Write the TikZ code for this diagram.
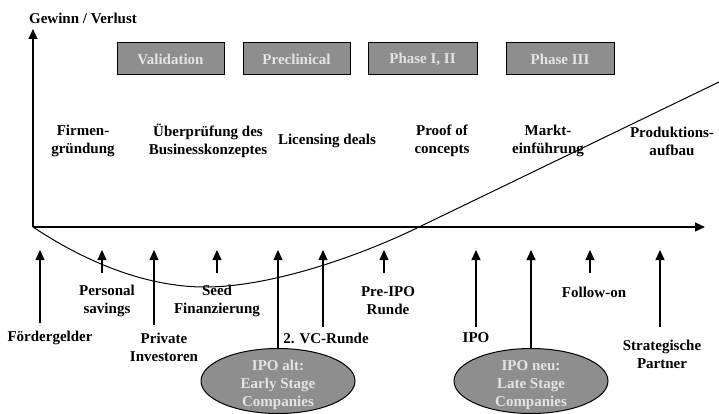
\documentclass[tikz,border=0pt]{standalone}
\usepackage{fontspec}
\setmainfont{Liberation Serif}
\usetikzlibrary{arrows.meta,positioning,shapes.geometric}
\definecolor{PhaseGray}{HTML}{8E8E8E}
\definecolor{PhaseText}{HTML}{E4E4E4}
\definecolor{LineBlack}{HTML}{000000}
\tikzset{
    % Bold serif labels
    label text/.style={
        font=\fontsize{15}{18}\selectfont\bfseries,
        align=center,
        inner sep=0pt,
        text=LineBlack
    },
    % Grey phase boxes
    phase box/.style={
        rectangle,
        draw=LineBlack,
        line width=1pt,
        fill=PhaseGray,
        text=PhaseText,
        minimum width=107pt,
        minimum height=32pt,
        font=\fontsize{15}{18}\selectfont\bfseries
    },
    ipo ellipse/.style={
        ellipse,
        draw=LineBlack,
        line width=1pt,
        fill=PhaseGray,
        minimum width=154pt,
        minimum height=65pt,
        inner sep=0pt
    },
    ipo text/.style={
        label text,
        text=PhaseText,
        yshift=-4pt
    },
    axis/.style={
        -{Triangle[length=10pt,width=9pt]},
        line width=1.3pt,
        color=LineBlack
    },
    arrow/.style={
        -{Triangle[length=10pt,width=9pt]},
        line width=1.2pt,
        color=LineBlack
    },
    curve/.style={
        line width=1pt,
        color=LineBlack
    }
}
\begin{document}
\begin{tikzpicture}[x=1pt, y=-1pt]
        \useasboundingbox (0,0) rectangle (719,414);

        % Axes
        \coordinate (origin) at (33,227);
        \coordinate (ytop) at (33,29);
        \coordinate (xend) at (705,227);
        \coordinate (tips) at (0,250);
        \draw[axis] (origin) -- (ytop);
        \draw[axis] (origin) -- (xend);
        \node[label text] (yname) at (83,18) {Gewinn / Verlust};

        % Phases
        \node[phase box] (validation) at (170.5,59) {Validation};
        \node[phase box] (preclinical) at (296.5,59) {Preclinical};
        \node[phase box, minimum width=109pt] (phase12) at (422.5,59) {Phase I, II};
        \node[phase box, minimum width=108pt] (phase3) at (560,59) {Phase III};

        % Milestones
        \node[label text] (gruendung) at (83,141) {Firmen-\\gründung};
        \node[label text] (konzept) at (208,141) {Überprüfung des\\Businesskonzeptes};
        \node[label text] (licensing) at (327,141) {Licensing deals};
        \node[label text] (proof) at (442,141) {Proof of\\concepts};
        \node[label text] (markt) at (548,141) {Markt-\\einführung};
        \node[label text] (produktion) at (672,141) {Produktions-\\aufbau};

        % Profit curve
        \draw[curve] (origin) .. controls (90,265) and (150,287) .. (205,287)
            .. controls (270,287) and (357,257) .. (417,228) -- (719,82);

        % Financing sources
        \node[label text] (foerder) at (50,338) {Fördergelder};
        \node[label text] (savings) at (107,301) {Personal\\savings};
        \node[label text] (private) at (164,347) {Private\\Investoren};
        \node[label text] (seed) at (217,301) {Seed\\Finanzierung};
        \node[label text] (vcrunde) at (326,338) {2. VC-Runde};
        \node[label text] (preipo) at (388,301) {Pre-IPO\\Runde};
        \node[label text] (ipo) at (476,338) {IPO};
        \node[label text] (followon) at (594,292) {Follow-on};
        \node[label text] (partner) at (662,354) {Strategische\\Partner};
        \node[ipo ellipse, label={[ipo text]center:{IPO alt:\\Early Stage\\Companies}}]
              (ipoalt) at (278,381) {};
        \node[ipo ellipse, label={[ipo text]center:{IPO neu:\\Late Stage\\Companies}}]
              (iponeu) at (531,381) {};

        % Arrow tails
        \coordinate (foerder tail) at (40,323);
        \coordinate (savings tail) at (102,273);
        \coordinate (private tail) at (154,325);
        \coordinate (seed tail) at (217,273);
        \coordinate (vcrunde tail) at (323,327);
        \coordinate (preipo tail) at (384,273);
        \coordinate (ipo tail) at (476,327);
        \coordinate (followon tail) at (590,273);
        \coordinate (partner tail) at (660,327);

        \draw[arrow] (foerder tail) -- (foerder tail |- tips);
        \draw[arrow] (savings tail) -- (savings tail |- tips);
        \draw[arrow] (private tail) -- (private tail |- tips);
        \draw[arrow] (seed tail) -- (seed tail |- tips);
        \draw[arrow] (ipoalt.north) -- (ipoalt.north |- tips);
        \draw[arrow] (vcrunde tail) -- (vcrunde tail |- tips);
        \draw[arrow] (preipo tail) -- (preipo tail |- tips);
        \draw[arrow] (ipo tail) -- (ipo tail |- tips);
        \draw[arrow] (iponeu.north) -- (iponeu.north |- tips);
        \draw[arrow] (followon tail) -- (followon tail |- tips);
        \draw[arrow] (partner tail) -- (partner tail |- tips);
    \end{tikzpicture}
\end{document}
